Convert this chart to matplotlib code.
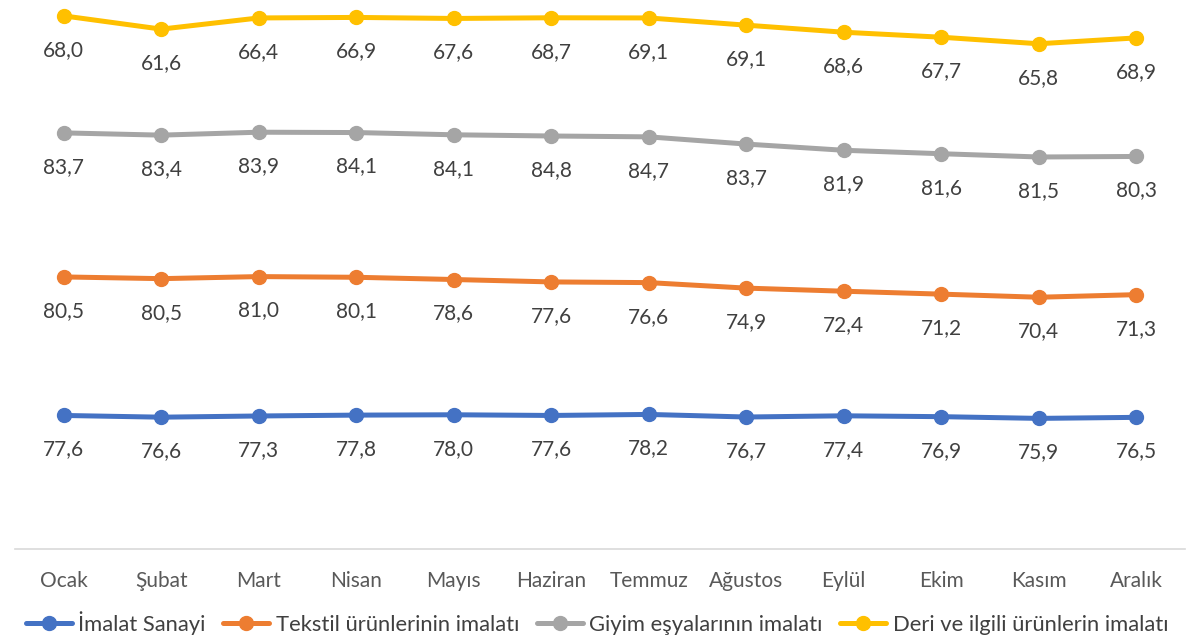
import matplotlib.pyplot as plt
import numpy as np

plt.rcParams['font.family'] = ['Lato', 'DejaVu Sans']

aylar = ["Ocak", "Şubat", "Mart", "Nisan", "Mayıs", "Haziran", "Temmuz",
         "Ağustos", "Eylül", "Ekim", "Kasım", "Aralık"]

imalat = [77.6, 76.6, 77.3, 77.8, 78.0, 77.6, 78.2, 76.7, 77.4, 76.9, 75.9, 76.5]
tekstil = [80.5, 80.5, 81.0, 80.1, 78.6, 77.6, 76.6, 74.9, 72.4, 71.2, 70.4, 71.3]
giyim = [83.7, 83.4, 83.9, 84.1, 84.1, 84.8, 84.7, 83.7, 81.9, 81.6, 81.5, 80.3]
deri = [68.0, 61.6, 66.4, 66.9, 67.6, 68.7, 69.1, 69.1, 68.6, 67.7, 65.8, 68.9]

seriler = [imalat, tekstil, giyim, deri]
isimler = ["İmalat Sanayi", "Tekstil ürünlerinin imalatı",
           "Giyim eşyalarının imalatı", "Deri ve ilgili ürünlerin imalatı"]
renkler = ["#4472C4", "#ED7D31", "#A5A5A5", "#FFC000"]

fig = plt.figure(figsize=(11.94, 6.39), dpi=100)
ax = fig.add_axes([15 / 1194, 90 / 639, 1170 / 1194, 549 / 639])

x = np.arange(len(aylar))
# yigilmis cizgi grafigi
yigin = np.cumsum(np.array(seriler), axis=0)

for vals, top, isim, renk in zip(seriler, yigin, isimler, renkler):
    ax.plot(x, top, color=renk, lw=3.6, marker="o", ms=10, label=isim,
            solid_capstyle="round", clip_on=False)
    for xi, yi, v in zip(x, top, vals):
        ax.annotate(f"{v:.1f}".replace(".", ","), (xi, yi), xytext=(0, -34),
                    textcoords="offset pixels", ha="center", va="center",
                    fontsize=15, color="#404040")

ax.set_xlim(-0.5, 11.5)
ax.set_ylim(0, 550 / 1.724)
ax.set_yticks([])
ax.set_xticks(x)
ax.set_xticklabels(aylar, fontsize=15, color="#595959")
ax.tick_params(axis="x", length=0, pad=16)
for s in ["top", "right", "left"]:
    ax.spines[s].set_visible(False)
ax.spines["bottom"].set_color("#D9D9D9")
ax.spines["bottom"].set_linewidth(1.2)

fig.legend(loc="lower center", bbox_to_anchor=(0.5, -0.024), ncol=4,
           frameon=False, fontsize=15.8, handlelength=2.1, handletextpad=0.3,
           columnspacing=0.8, labelcolor="#404040")

fig.savefig("out.png", dpi=100)
